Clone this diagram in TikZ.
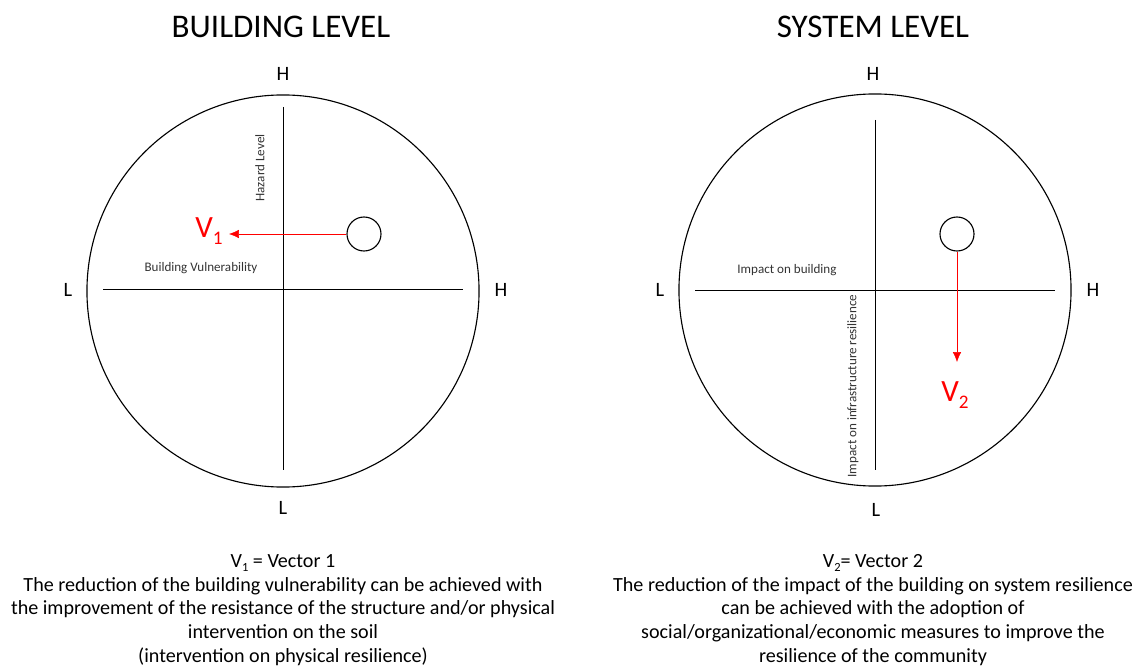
\documentclass[tikz,border=0pt]{standalone}
\usepackage{fontspec}
\setmainfont{Carlito}
\usepackage{tikz}
\usetikzlibrary{arrows.meta}
\usetikzlibrary{positioning}
\newcommand{\vsub}[1]{\raisebox{-0.45ex}{\fontsize{0.62em}{1em}\selectfont #1}}

\begin{document}
\begin{tikzpicture} [x=0.025cm, y=-0.025cm,
                title/.style = {font=\fontsize{23.5}{28}\selectfont},
                pole/.style = {font=\fontsize{14.5}{17}\selectfont},
                axislabel/.style = {font=\fontsize{9.3}{11}\selectfont, text=black!80},
                vlabel/.style = {font=\fontsize{22}{26}\selectfont, text=red},
                note/.style = {font=\fontsize{14.3}{16.8}\selectfont, align=center},
                ring/.style = {draw, thick, circle, minimum size=9.8cm, inner sep=0pt},
                dot/.style = {draw, thick, circle, minimum size=0.85cm, inner sep=0pt},
                vector/.style = {-{Latex[length=7pt,width=6pt]}, red, thin}
            ]
            \useasboundingbox (0,0) rectangle (1139,670);
            % building level
            \node[title] (t1) at (281, 27) {BUILDING LEVEL};
            \node[ring] (r1) at (283, 291) {};
            \coordinate (n1) at (283, 107);
            \coordinate (s1) at (283, 470);
            \coordinate (w1) at (103, 289);
            \coordinate (e1) at (463, 289);
            \draw (n1) -- (s1);
            \draw (w1) -- (e1);
            \node[pole] (hn1) at (283, 74) {H};
            \node[pole] (ls1) at (283, 508) {L};
            \node[pole] (lw1) at (68, 290) {L};
            \node[pole] (he1) at (501, 290) {H};
            \node[axislabel, rotate=90] (hz) at (260, 168) {Hazard Level};
            \node[axislabel] (bv) at (201, 268) {Building Vulnerability};
            \node[dot] (c1) at (364, 234) {};
            \node[vlabel] (v1) at (209, 231) {V\vsub{1}};
            \draw [vector, shorten >= 1pt] (c1.west) -- (v1.east |- c1.west);
            \node[note] (d1) at (283, 610) {V\vsub{1} = Vector 1\\The reduction of the building vulnerability can be achieved with\\the improvement of the resistance of the structure and/or physical\\intervention on the soil\\(intervention on physical resilience)};
            % system level
            \node[title] (t2) at (873, 27) {SYSTEM LEVEL};
            \node[ring] (r2) at (875, 290) {};
            \coordinate (n2) at (875, 120);
            \coordinate (s2) at (875, 470);
            \coordinate (w2) at (695, 290);
            \coordinate (e2) at (1055, 290);
            \draw (n2) -- (s2);
            \draw (w2) -- (e2);
            \node[pole] (hn2) at (873, 74) {H};
            \node[pole] (ls2) at (876, 510) {L};
            \node[pole] (lw2) at (660, 290) {L};
            \node[pole] (he2) at (1093, 290) {H};
            \node[axislabel] (ib) at (787, 270) {Impact on building};
            \node[axislabel, rotate=90] (ir) at (853, 386) {Impact on infrastructure resilience};
            \node[dot] (c2) at (957, 234) {};
            \coordinate (tip2) at (957, 362);
            \draw [vector] (c2.south) -- (tip2);
            \node[vlabel] (v2) at (955, 395) {V\vsub{2}};
            \node[note] (d2) at (873, 610) {V\vsub{2}= Vector 2\\The reduction of the impact of the building on system resilience\\can be achieved with the adoption of\\social/organizational/economic measures to improve the\\resilience of the community};
\end{tikzpicture}
\end{document}
